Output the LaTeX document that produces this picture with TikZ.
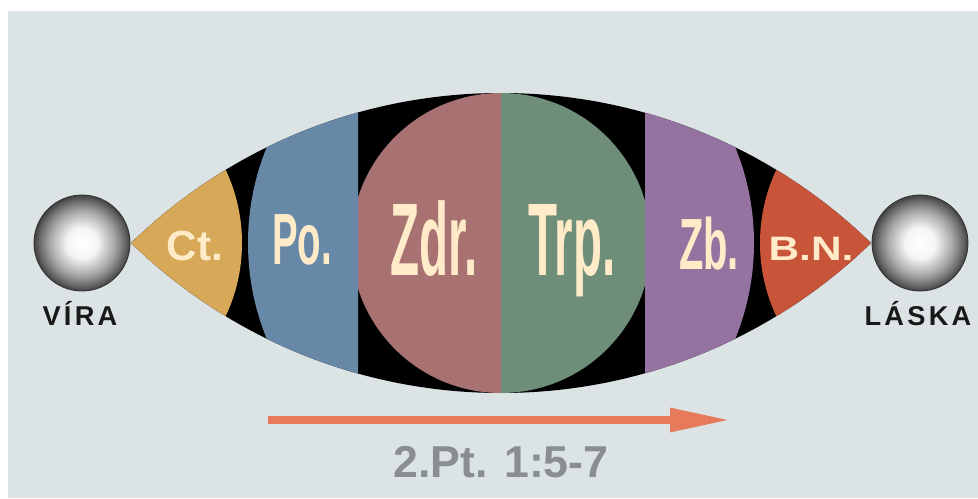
\documentclass[tikz,border=0pt]{standalone}
\usepackage{fontspec}
\setmainfont{Liberation Sans}
\newfontfamily\spacedfont{Liberation Sans}[LetterSpace=12]
\usepackage{xcolor}
\usepackage{tikz}
\usetikzlibrary{arrows.meta}
\definecolor{bgcol}{HTML}{DCE3E5}
\definecolor{ctcol}{HTML}{D6A858}
\definecolor{pocol}{HTML}{6888A8}
\definecolor{zdrcol}{HTML}{A87272}
\definecolor{trpcol}{HTML}{6E8E7A}
\definecolor{zbcol}{HTML}{9473A0}
\definecolor{bncol}{HTML}{C8553A}
\definecolor{cream}{HTML}{FFEBC8}
\definecolor{arrcol}{HTML}{E67A5A}
\definecolor{refcol}{HTML}{888E92}
\pgfdeclareradialshading{sphereshade}{\pgfpoint{0bp}{0bp}}{%
  color(0bp)=(white); color(8bp)=(white!96!black); color(17bp)=(black!35);
  color(22bp)=(black!58); color(25bp)=(black!74); color(50bp)=(black!74)}
\tikzset{
  lbl/.style={text=cream, inner sep=0pt, anchor=base,
              font=\bfseries\fontsize{#1pt}{#1pt}\selectfont},
  lbl/.default=24,
  sphere/.style={circle, draw=black!80, line width=0.5pt, shading=sphereshade,
                 minimum size=1.92cm, inner sep=0pt},
  spherelbl/.style={inner sep=0pt, anchor=base, text=black!90,
               font=\spacedfont\bfseries\fontsize{15.5pt}{15.5pt}\selectfont}}

\begin{document}
\begin{tikzpicture}[x=0.02cm, y=0.02cm]
  \useasboundingbox (0,0) rectangle (978,498);
  \fill[bgcol] (8,0) rectangle (978,487);
  % the lens: two circle arcs, everything inside clipped to it
  \begin{scope}
    \clip (501,-126.3) circle (531.3);
    \clip (501,636.3) circle (531.3);
    \fill[black] (100,80) rectangle (900,430);
    % central circle, two halves
    \fill[zdrcol] (501,405) arc[start angle=90, end angle=270, radius=150] -- cycle;
    \fill[trpcol] (501,405) arc[start angle=90, end angle=-90, radius=150] -- cycle;
    % outer ring pieces, cut straight next to the circle
    \begin{scope}
      \clip (0,0) rectangle (358,498);
      \fill[pocol] (501,255) circle (253);
    \end{scope}
    \begin{scope}
      \clip (645,0) rectangle (978,498);
      \fill[zbcol] (501,255) circle (253);
    \end{scope}
    % tips
    \fill[ctcol] (70,255) circle (172);
    \fill[bncol] (932,255) circle (172);
  \end{scope}
  % labels in the lens
  \node[lbl] (ct) at (195,238) {Ct.};
  \node[lbl=41.3, xscale=0.53] (po) at (302,234) {Po.};
  \node[lbl=58.8, xscale=0.46] (zdr) at (434,223) {Zdr.};
  \node[lbl=58.8, xscale=0.46] (trp) at (572,223) {Trp.};
  \node[lbl=41.3, xscale=0.55] (zb) at (709,229) {Zb.};
  \node[lbl=19.3, xscale=1.25] (bn) at (811,238) {B.N.};
  % the two spheres
  \foreach \x/\n/\t in {82/vira/VÍRA, 920/laska/LÁSKA}{
    \node[sphere] (\n) at (\x,255) {};
    \node[spherelbl] (\n lbl) at (\x-2,173) {\t};}
  % arrow and reference
  \coordinate (arrS) at (268,78);
  \coordinate (arrE) at (732,78);
  \draw[arrcol, line width=5.1pt, -{Triangle[length=1.24cm, width=0.44cm]}] (arrS) -- (arrE);
  \node[inner sep=0pt, anchor=base, text=refcol,
        font=\bfseries\fontsize{25.4pt}{25.4pt}\selectfont] (ref) at (501,21) {2.Pt. 1:5-7};
\end{tikzpicture}
\end{document}
